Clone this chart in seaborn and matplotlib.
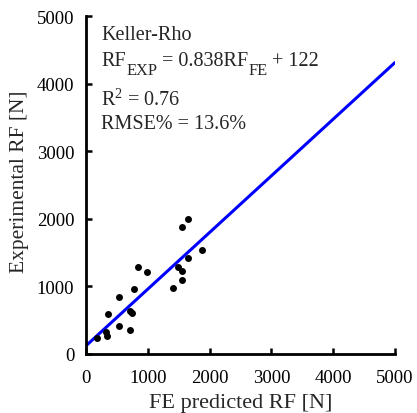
import matplotlib
matplotlib.use("Agg")
import matplotlib.pyplot as plt
import seaborn as sns
import numpy as np
import pandas as pd

# FE predicted vs experimental reaction force (N)
fe_predicted = [173, 324, 335, 361, 529, 529, 707, 712, 749, 777,
                841, 982, 1408, 1489, 1558, 1558, 1650, 1882, 1558, 1650]
experimental = [237, 321, 262, 592, 848, 410, 355, 636, 607, 962,
                1287, 1209, 976, 1291, 1223, 1095, 1416, 1543, 1874, 1997]

# Linear regression summary
model_name = "Keller-Rho"
slope = 0.838
intercept = 122
r_squared = 0.76
rmse_pct = 13.6
fit_range = [0, 5000]

tick_values = [0, 1000, 2000, 3000, 4000, 5000]

sns.set_style("ticks")
plt.rcParams["font.family"] = ["Liberation Serif", "DejaVu Serif"]
plt.rcParams["mathtext.fontset"] = "custom"
plt.rcParams["mathtext.rm"] = "Liberation Serif"
plt.rcParams["mathtext.it"] = "Liberation Serif:italic"
plt.rcParams["mathtext.default"] = "rm"

df = pd.DataFrame({"fe": fe_predicted, "exp": experimental})
fit_x = np.array(fit_range, dtype=float)
fit_df = pd.DataFrame({"x": fit_x, "y": slope * fit_x + intercept})

W, H = 417, 414
fig = plt.figure(figsize=(W / 100, H / 100), dpi=100)
ax = fig.add_axes([86 / W, 1 - 355 / H, (395 - 86) / W, (355 - 17) / H])

sns.lineplot(data=fit_df, x="x", y="y", ax=ax, color="#0000ff", linewidth=2.2, zorder=2)
sns.scatterplot(data=df, x="fe", y="exp", ax=ax, color="black", s=25,
                edgecolor="black", linewidth=0, zorder=3)

ax.set_xlim(0, 5000)
ax.set_ylim(0, 5000)
ax.set_xticks(tick_values)
ax.set_yticks(tick_values)
ax.set_xticklabels([str(v) for v in tick_values])
ax.set_yticklabels([str(v) for v in tick_values])
ax.tick_params(direction="in", length=4, width=1.8, labelsize=13.5,
               color="black", labelcolor="black")
ax.tick_params(axis="x", pad=11)
ax.tick_params(axis="y", pad=8.5)
for side in ["left", "bottom"]:
    ax.spines[side].set_linewidth(2)
    ax.spines[side].set_color("black")
for side in ["top", "right"]:
    ax.spines[side].set_visible(False)

ax.set_xlabel("FE predicted RF [N]", fontsize=16)
ax.set_ylabel("Experimental RF [N]", fontsize=15.5)
ax.xaxis.set_label_coords(0.5, -(404 - 355) / 338, transform=ax.transAxes)
ax.xaxis.label.set_va("center")
ax.yaxis.set_label_coords(-(86 - 19.5) / 309, 0.5 - (181.5 - 186) / 338, transform=ax.transAxes)
ax.yaxis.label.set_va("center")

# Regression summary
main_fs, sub_fs, sub_drop = 14.5, 11.8, 8.5
text_x = 0.05
ax.text(text_x, 0.9305, model_name, transform=ax.transAxes, ha="left",
        va="baseline", fontsize=main_fs)
ax.text(text_x, 0.7382, f"R$^{{2}}$ = {r_squared:.2f}", transform=ax.transAxes,
        ha="left", va="baseline", fontsize=main_fs)
ax.text(text_x, 0.6672, f"RMSE% = {rmse_pct:.1f}%", transform=ax.transAxes,
        ha="left", va="baseline", fontsize=main_fs)

# Regression equation, built piece by piece so the subscripts sit low
renderer = fig.canvas.get_renderer()
x_px = ax.transAxes.transform((text_x, 0))[0]
base_px = ax.transAxes.transform((0, 0.8536))[1]
pieces = [("RF", main_fs, 0), ("EXP", sub_fs, -sub_drop),
          (f" = {slope:.3f}RF", main_fs, 0), ("FE", sub_fs, -sub_drop),
          (f" + {intercept}", main_fs, 0)]
for s, fs, dy in pieces:
    t = fig.text(x_px / W, (base_px + dy) / H, s, fontsize=fs,
                 ha="left", va="baseline")
    x_px = t.get_window_extent(renderer).x1

fig.savefig("out.png", dpi=100)
